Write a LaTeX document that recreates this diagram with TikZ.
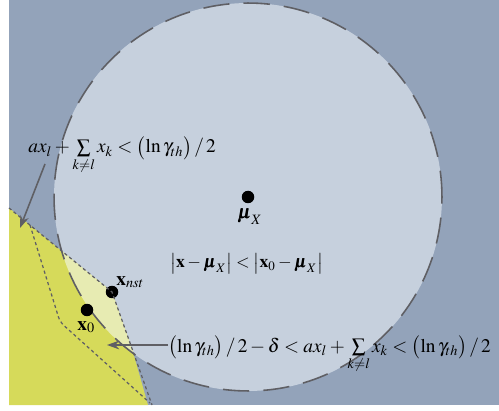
\documentclass[tikz,border=0pt]{standalone}
\usepackage{mathptmx}
\usepackage{bm}
\usetikzlibrary{arrows.meta}
\definecolor{bgc}{RGB}{147,163,186}
\definecolor{circc}{RGB}{198,208,221}
\definecolor{yel}{RGB}{214,218,90}
\definecolor{pale}{RGB}{231,235,178}
\definecolor{lin}{RGB}{95,95,100}
\tikzset{
  dotnode/.style={circle,fill=black,inner sep=0pt,minimum size=0.25cm},
  lbl/.style={inner sep=0pt,font=\fontsize{10}{12}\selectfont},
  biglbl/.style={inner sep=0pt,font=\fontsize{11}{13}\selectfont},
  circdash/.style={draw=lin,line width=0.9pt,dash pattern=on 15pt off 8pt},
  fine/.style={draw=lin,line width=0.7pt,dash pattern=on 1.8pt off 1.6pt},
  arr/.style={draw=lin,line width=0.9pt,-{Stealth[length=7pt,width=5pt]}}
}
\begin{document}
\begin{tikzpicture}[x=0.02cm,y=-0.02cm]
\useasboundingbox (0,0) rectangle (499,411);
\fill[bgc] (9,0) rectangle (499,405);
\coordinate (c) at (248,197);
\fill[circc] (c) circle (3.88cm);
\fill[yel] (9,208) -- (112,292) -- (133,352) -- (148,405) -- (9,405) -- cycle;
\begin{scope}
  \clip (c) circle (3.88cm);
  \fill[pale] (9,208) -- (112,292) -- (133,352) -- (148,405) -- (9,405) -- cycle;
\end{scope}
\draw[circdash] (c) circle (3.88cm);
% boundary lines
\coordinate (b1) at (9,208);
\coordinate (b3) at (152,405);
\coordinate (i1) at (30,225);
\coordinate (i2) at (60,322);
\coordinate (i3) at (150,403);
% dots
\node[dotnode] (mu) at (c) {};
\node[dotnode] (xnst) at (112,292) {};
\node[dotnode] (x0) at (87,310) {};
\draw[fine] (b1) -- (xnst.center) -- (b3);
\draw[fine,rounded corners=3pt] (i1) -- (i2) -- (i3);
% labels
\node[biglbl,anchor=base west] (mul) at (237,219) {$\bm{\mu}_X$};
\node[biglbl,anchor=base west] (xnstl) at (116,285) {$\mathbf{x}_{nst}$};
\node[biglbl,anchor=base west] (x0l) at (77,330) {$\mathbf{x}_0$};
\node[lbl,anchor=base west] (dist) at (170,268)
  {$\bigl|\mathbf{x}-\bm{\mu}_X\bigr|<\bigl|\mathbf{x}_0-\bm{\mu}_X\bigr|$};
\node[biglbl,anchor=base west] (cond1) at (28,153)
  {$ax_l+\sum\limits_{k\neq l}x_k<\bigl(\ln\gamma_{th}\bigr)\,/\,2$};
\node[biglbl,anchor=base west] (cond2) at (168,352)
  {$\bigl(\ln\gamma_{th}\bigr)\,/\,2-\delta<ax_l+\sum\limits_{k\neq l}x_k<\bigl(\ln\gamma_{th}\bigr)\,/\,2$};
% arrows
\coordinate (a1s) at (45,164);
\coordinate (a1t) at (20,228);
\coordinate (a2t) at (107,345);
\draw[arr] (a1s) -- (a1t);
\draw[arr] (cond2.west |- a2t) -- (a2t);
\end{tikzpicture}
\end{document}
